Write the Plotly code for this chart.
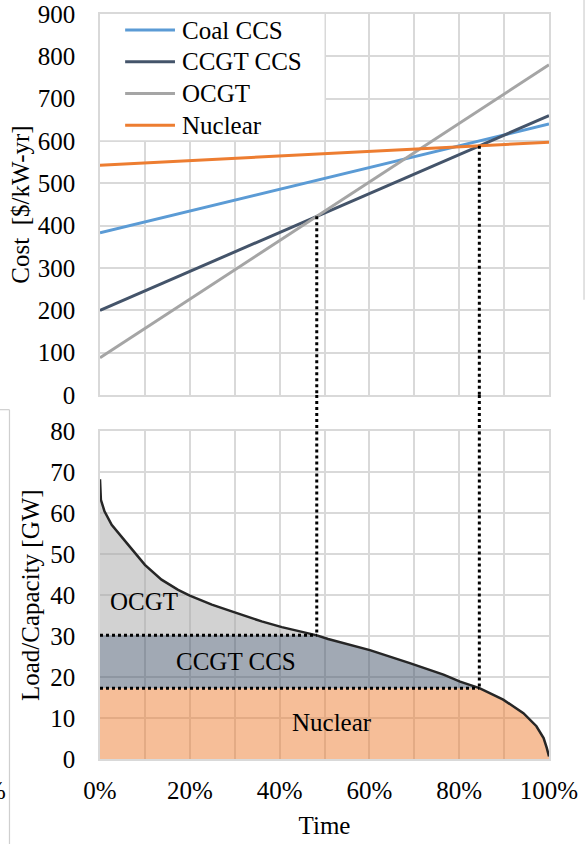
import numpy as np
import plotly.graph_objects as go

# Annualised cost of each technology at 0 % and 100 % utilisation [$/kW-yr]
tech_names = ["Coal CCS", "CCGT CCS", "OCGT", "Nuclear"]
tech_colors = ["#5B9BD5", "#44546A", "#A5A5A5", "#ED7D31"]
cost_at_0 = [383, 200, 88, 543]
cost_at_100 = [640, 660, 780, 597]
utilisation_pct = [0, 100]

# Load duration curve
time_pct = [0, 0.2, 1.0, 2.6, 6.3, 10, 13.7, 17.4, 20, 24.9, 30, 36, 40.5, 44.9,
            48.3, 50.8, 54.2, 60.1, 69, 76.5, 80.2, 84.5, 89.8, 94.3, 97.2, 98.8,
            99.5, 100]
load_gw = [68.3, 63.3, 60.5, 57.2, 52.3, 47.4, 43.8, 41.3, 39.9, 37.7, 35.8, 33.6,
           32.2, 31.0, 30.2, 29.3, 28.3, 26.6, 23.4, 20.6, 18.9, 17.3, 14.5, 11.2,
           8.0, 5.1, 2.7, 0.6]

# Region labels in the lower panel: (text, time %, GW)
region_labels = [("OCGT", 9.7, 38.5), ("CCGT CCS", 30.3, 23.8), ("Nuclear", 51.7, 8.9)]

FONT = "Liberation Serif"
FS = 25
GRID = "#D9D9D9"
TOP_DOM = [0.4886, 1.0]
BOT_DOM = [0.0, 0.4397]


def crossing(i, j):
    """Utilisation (%) where the cost lines of technologies i and j meet."""
    da = cost_at_100[i] - cost_at_0[i]
    db = cost_at_100[j] - cost_at_0[j]
    return 100 * (cost_at_0[j] - cost_at_0[i]) / (da - db)


def cost_at(i, t):
    return cost_at_0[i] + (cost_at_100[i] - cost_at_0[i]) * t / 100


i_ocgt, i_ccgt, i_nuc = 2, 1, 3
t_peak = crossing(i_ocgt, i_ccgt)   # OCGT / CCGT CCS break-even
t_base = crossing(i_ccgt, i_nuc)    # CCGT CCS / Nuclear break-even
ccgt_level = float(np.interp(t_peak, time_pct, load_gw))
nuc_level = float(np.interp(t_base, time_pct, load_gw))

load = np.array(load_gw)
y_nuc = np.minimum(load, nuc_level)
y_ccgt = np.minimum(load, ccgt_level)

fig = go.Figure()

# Upper panel: cost lines
for name, col, c0, c1 in zip(tech_names, tech_colors, cost_at_0, cost_at_100):
    fig.add_trace(go.Scatter(x=utilisation_pct, y=[c0, c1], mode="lines", name=name,
                             line=dict(color=col, width=3), xaxis="x", yaxis="y",
                             showlegend=False))

# Lower panel: stacked capacity areas under the load curve
fig.add_trace(go.Scatter(x=time_pct, y=y_nuc, mode="lines", fill="tozeroy",
                         fillcolor="rgba(237,125,49,0.5)", line=dict(width=0),
                         showlegend=False, xaxis="x2", yaxis="y2", hoverinfo="skip"))
fig.add_trace(go.Scatter(x=time_pct, y=y_ccgt, mode="lines", fill="tonexty",
                         fillcolor="rgba(68,84,106,0.5)", line=dict(width=0),
                         showlegend=False, xaxis="x2", yaxis="y2", hoverinfo="skip"))
fig.add_trace(go.Scatter(x=time_pct, y=load_gw, mode="lines", fill="tonexty",
                         fillcolor="rgba(165,165,165,0.5)", line=dict(width=0),
                         showlegend=False, xaxis="x2", yaxis="y2", hoverinfo="skip"))
fig.add_trace(go.Scatter(x=time_pct, y=load_gw, mode="lines",
                         line=dict(color="#262626", width=2.5),
                         showlegend=False, xaxis="x2", yaxis="y2"))

# Dotted guides: horizontal capacity levels and vertical break-even times
dot = dict(color="black", width=3, dash="dot")
shapes = [
    # white backdrop behind the legend (above grid, below traces)
    dict(type="rect", xref="x", yref="y", x0=0, x1=50, y0=602, y1=900,
         fillcolor="white", line=dict(width=0), layer="between"),
]
for t, lvl, i in [(t_peak, ccgt_level, i_ccgt), (t_base, nuc_level, i_nuc)]:
    shapes.append(dict(type="line", xref="x2", yref="y2", x0=0, x1=t, y0=lvl, y1=lvl, line=dot))
    shapes.append(dict(type="line", xref="x", yref="y", x0=t, x1=t, y0=cost_at(i, t), y1=0, line=dot))
    shapes.append(dict(type="line", xref="x", yref="paper", x0=t, x1=t,
                       y0=TOP_DOM[0], y1=BOT_DOM[1], line=dot))
    shapes.append(dict(type="line", xref="x2", yref="y2", x0=t, x1=t, y0=80, y1=lvl, line=dot))

annotations = [dict(x=x, y=y, xref="x2", yref="y2", text=txt, showarrow=False,
                    font=dict(family=FONT, size=FS, color="black"))
               for txt, x, y in region_labels]

# Legend of the cost lines (sample line + label), top-left of the upper panel
LEG_X0, LEG_X1, LEG_TX = 0.056, 0.167, 0.178
LEG_Y0, LEG_DY = 0.9785, 0.0426
for k, (name, col) in enumerate(zip(tech_names, tech_colors)):
    yk = LEG_Y0 - k * LEG_DY
    shapes.append(dict(type="line", xref="paper", yref="paper", x0=LEG_X0, x1=LEG_X1,
                       y0=yk, y1=yk, line=dict(color=col, width=3)))
    annotations.append(dict(x=LEG_TX, y=yk, xref="paper", yref="paper", text=name,
                            showarrow=False, xanchor="left", yanchor="middle",
                            font=dict(family=FONT, size=FS, color="black")))

# Thin frame edges of the neighbouring panels
edge = dict(color="#CFCFCF", width=1.2)
shapes.append(dict(type="line", xref="paper", yref="paper", x0=-0.2227, x1=-0.2016,
                   y0=0.4689, y1=0.4689, line=edge))
shapes.append(dict(type="line", xref="paper", yref="paper", x0=-0.2016, x1=-0.2016,
                   y0=0.4689, y1=-0.12, line=edge))
shapes.append(dict(type="line", xref="paper", yref="paper", x0=1.078, x1=1.078,
                   y0=1.03, y1=0.6165, line=edge))
annotations.append(dict(x=-0.2045, y=-0.0426, xref="paper", yref="paper", text="%",
                        showarrow=False, xanchor="right", yanchor="middle",
                        font=dict(family=FONT, size=FS, color="black")))

axis_common = dict(showgrid=True, gridcolor=GRID, gridwidth=1.5, zeroline=False,
                   showline=True, linecolor=GRID, linewidth=1.5, mirror=True,
                   automargin=False,
                   ticks="", tickfont=dict(family=FONT, size=FS, color="black"))

fig.update_layout(
    width=586, height=844,
    margin=dict(l=100, r=37, t=14, b=85),
    paper_bgcolor="white", plot_bgcolor="white",
    font=dict(family=FONT, size=FS, color="black"),
    showlegend=False,
    xaxis=dict(domain=[0, 1], anchor="y", range=[0, 100], dtick=10,
               showticklabels=False, **axis_common),
    yaxis=dict(domain=TOP_DOM, anchor="x", range=[0, 900], dtick=100,
               ticklabelstandoff=18,
               title=dict(text="Cost\u00a0 [$/kW-yr]", standoff=1,
                          font=dict(family=FONT, size=FS)),
               **axis_common),
    xaxis2=dict(domain=[0, 1], anchor="y2", range=[0, 100],
                tickvals=list(range(0, 101, 10)),
                ticktext=[f"{v}%" if v % 20 == 0 else "" for v in range(0, 101, 10)],
                ticklabelstandoff=8,
                title=dict(text="Time", standoff=14, font=dict(family=FONT, size=FS)),
                **axis_common),
    yaxis2=dict(domain=BOT_DOM, anchor="x2", range=[0, 80], dtick=10,
                ticklabelstandoff=18,
                title=dict(text="Load/Capacity [GW]", standoff=3,
                           font=dict(family=FONT, size=FS)),
                **axis_common),
    shapes=shapes,
    annotations=annotations,
)

fig.write_html("out.html")
